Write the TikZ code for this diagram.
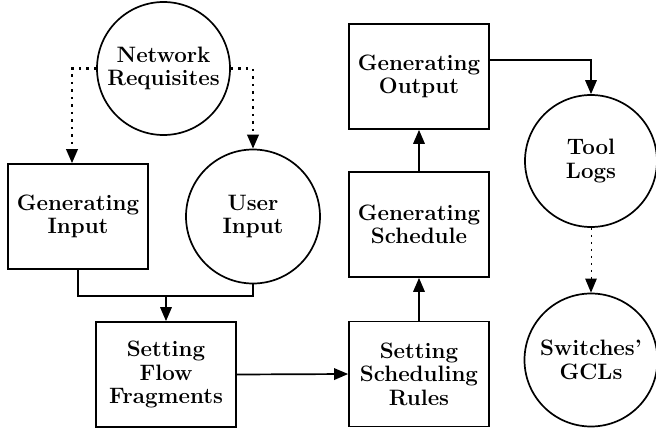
\documentclass[tikz,border=0pt]{standalone}
\usepackage{fontspec}
\usetikzlibrary{arrows.meta,calc}
\begin{document}
\begin{tikzpicture}[x=1pt,y=-1pt,
  every node/.style={font=\fontsize{22.3}{23.5}\selectfont\bfseries, align=center, draw, line width=1.7pt, inner sep=0pt},
  boxn/.style={rectangle, minimum width=140pt, minimum height=105pt},
  circn/.style={circle, minimum size=133pt},
  conn/.style={line width=1.7pt},
  tip/.style={-{Triangle[length=14pt,width=11.5pt]}},
  arr/.style={conn, tip},
  dots/.style={line width=2.2pt, dash pattern=on 2.2pt off 5.3pt, tip},
  fine/.style={line width=1pt, dash pattern=on 2pt off 5pt, tip}]
\useasboundingbox (0,0) rectangle (656,431);
\node[circn] (nr) at (163.5,68.5) {Network\\Requisites};
\node[boxn] (gi) at (78,216.5) {Generating\\Input};
\node[circn, minimum size=134pt] (ui) at (253,216.5) {User\\Input};
\node[boxn] (sff) at (166,374.5) {Setting\\Flow\\Fragments};
\node[boxn] (ssr) at (419,374) {Setting\\Scheduling\\Rules};
\node[boxn] (gs) at (419,224.5) {Generating\\Schedule};
\node[boxn] (go) at (419,76.5) {Generating\\Output};
\node[circn, minimum size=132pt] (tl) at (591,161) {Tool\\Logs};
\node[circn] (sg) at (591,360) {Switches'\\GCLs};
\coordinate (j) at (166,296);
\draw[dots] (nr.west) -| ([xshift=-6pt]gi.north);
\draw[dots] (nr.east) -| (ui.north);
\draw[conn] (gi.south) |- (j);
\draw[conn] (ui.south) |- (j);
\draw[arr] (j) -- (sff.north);
\draw[arr] (sff.east) -- (ssr.west);
\draw[arr] (ssr.north) -- (gs.south);
\draw[arr] (gs.north) -- (go.south);
\draw[arr] ([yshift=16.5pt]go.east) -| (tl.north);
\draw[fine] (tl.south) -- (sg.north);
\end{tikzpicture}
\end{document}
